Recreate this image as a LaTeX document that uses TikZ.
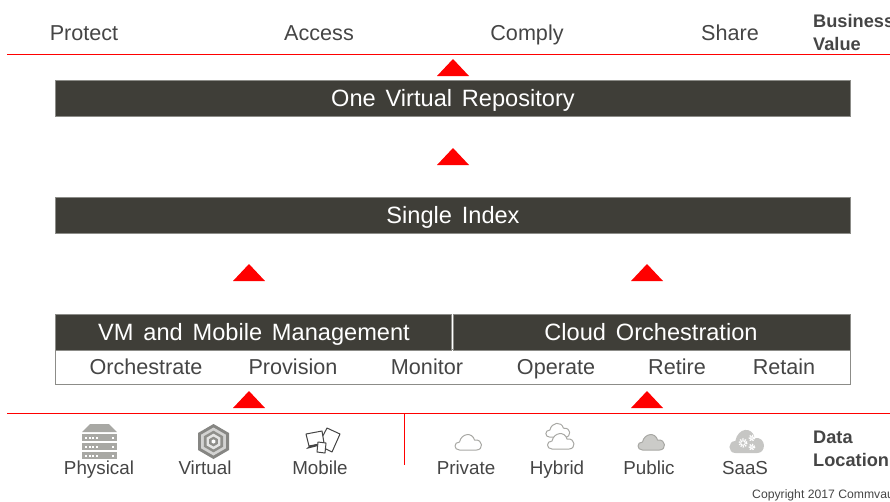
\documentclass[tikz,border=0pt]{standalone}
\usepackage{fontspec}
\setmainfont{Liberation Sans}
\newfontfamily\barfont[WordSpace=1.5]{Liberation Sans}
\usetikzlibrary{positioning}
\definecolor{pDark}{HTML}{3F3E38}
\definecolor{pText}{HTML}{454545}
\definecolor{pIcon}{HTML}{A8A8A4}
\definecolor{pEdge}{HTML}{8C8C88}
\tikzset{
    bar/.style={draw=pEdge, fill=pDark, minimum height=36pt, inner sep=0pt},
    bartext/.style={text=white, anchor=base, inner sep=0pt, font=\barfont\fontsize{23.6}{25}\selectfont},
    lbl/.style={text=pText, anchor=base, inner sep=0pt, font=\fontsize{21.6}{24}\selectfont},
    head/.style={lbl, font=\fontsize{21.6}{24}\selectfont},
    tag/.style={lbl, anchor=base west, font=\bfseries\fontsize{18.2}{20}\selectfont},
    icn/.style={lbl, font=\fontsize{18.8}{21}\selectfont},
    rule/.style={red, line width=1pt},
    up/.style={fill=red},
    cloudicon/.pic={
        \path[pic actions, line width=1pt, line join=round] (-9,8) .. controls (-15,8) and (-15,0) .. (-9,0)
            .. controls (-7,-9) and (4,-10) .. (6,-2) .. controls (15,-3) and (15,8) .. (8,8) -- cycle;
    }
}
\begin{document}
\begin{tikzpicture}[x=1pt,y=-1pt]
\useasboundingbox[clip] (0,0) rectangle (890,501);
% top row
\node[head] (protect) at ( 84,40.5) {Protect};
\node[head] (access)  at (319,40.5) {Access};
\node[head] (comply)  at (527,40.5) {Comply};
\node[head] (share)   at (730,40.5) {Share};
\node[tag] (business) at (813,27) {Business};
\node[tag] (value)    at (813,50) {Value};
\coordinate (topL) at (7,54);
\coordinate (topR) at (890,54);
\draw[rule] (topL)--(topR);
% bars
\node[bar,minimum width=795.5pt] (repo)  at (452.7,98.2) {};
\node[bar,minimum width=795.5pt] (index) at (452.7,214.7) {};
\node[draw=pEdge,line width=1pt,fill=white,minimum width=795pt,minimum height=35pt,inner sep=0pt] (tasks) at (453,367.3) {};
\node[bar,minimum width=396pt] (vm)    at (252.9,331.8) {};
\node[bar,minimum width=397pt] (cloud) at (652,331.8) {};
\node[bartext] (repotext)  at (453,106) {One Virtual Repository};
\node[bartext] (indextext) at (453,223) {Single Index};
\node[bartext] (vmtext)    at (254,340) {VM and Mobile Management};
\node[bartext] (cloudtext) at (651,340) {Cloud Orchestration};
\node[lbl] (orch) at (146,374.5) {Orchestrate};
\node[lbl] (prov) at (293,374.5) {Provision};
\node[lbl] (moni) at (427,374.5) {Monitor};
\node[lbl] (oper) at (556,374.5) {Operate};
\node[lbl] (reti) at (677,374.5) {Retire};
\node[lbl] (reta) at (784,374.5) {Retain};
% red triangles
\foreach \x/\y in {453/76, 453/165, 249/281, 647/281, 249/408, 647/408}
    \fill[up] (\x-16,\y) -- (\x,\y-17) -- (\x+16,\y) -- cycle;
% bottom rule
\coordinate (botL) at (7,413);
\coordinate (botR) at (890,413);
\coordinate (botM) at (404,413);
\coordinate (botD) at (404,465);
\draw[rule] (botL)--(botR);
\draw[rule] (botM)--(botD);
% physical
\fill[pIcon] (82,432) -- (90,424) -- (109,424) -- (117,432) -- cycle;
\foreach \y in {434,443,452} {
    \fill[pIcon] (82,\y) rectangle (117,\y+7);
    \foreach \x in {85,88.5,92,95.5}
        \fill[white] (\x,\y+3) rectangle (\x+2,\y+4.5);
    \fill[white] (112,\y+3) rectangle (114,\y+4.5);
}
% virtual
\fill[pIcon!80!black] (213.5,424) -- (229,433) -- (229,450) -- (213.5,459) -- (198,450) -- (198,433) -- cycle;
\foreach \r/\c in {0.8/pIcon!50!white, 0.62/pIcon!85!black, 0.45/pIcon!30!white, 0.28/pIcon!85!black, 0.12/white}
    \fill[\c,shift={(213.5,441.5)},scale=\r] (0,-17.5) -- (15.5,-8.5) -- (15.5,8.5) -- (0,17.5) -- (-15.5,8.5) -- (-15.5,-8.5) -- cycle;
% mobile
\draw[pText,line width=1pt,fill=white,line join=round] (327,428) -- (340,434) -- (332,452) -- (318,445) -- cycle;
\draw[pText,line width=1pt,fill=white,line join=round] (306,434) -- (322,431) -- (324,443) -- (309,446) -- cycle;
\fill[pText] (306,449) -- (309,446) -- (318,444) -- (318,446) -- cycle;
\draw[pText,line width=1pt,fill=white,line join=round] (318,442) -- (326,443) -- (325,453) -- (317,452) -- cycle;
% clouds
\pic[draw=pIcon] at (468.5,442) {cloudicon};
\pic[draw=pIcon,scale=.9] at (558,430) {cloudicon};
\pic[draw=pIcon,fill=white] at (561,441) {cloudicon};
\pic[draw=pIcon,fill=pIcon!60!white] at (651.5,442) {cloudicon};
\pic[draw=none,fill=pIcon!65!white,xscale=1.3,yscale=1.5] at (747,441) {cloudicon};
\foreach \x/\y/\r in {743/443/3.8, 752/438/2.6, 752/447/2.6} {
    \draw[white,line width=1.6pt,dash pattern=on 1.2pt off 1.2pt] (\x,\y) circle[radius=\r];
    \draw[white,line width=1pt] (\x,\y) circle[radius=\r*.6];
}
% bottom labels
\node[icn] (physical) at ( 99,474) {Physical};
\node[icn] (virtual)  at (205,474) {Virtual};
\node[icn] (mobile)   at (320,474) {Mobile};
\node[icn] (private)  at (466,474) {Private};
\node[icn] (hybrid)   at (557,474) {Hybrid};
\node[icn] (public)   at (649,474) {Public};
\node[icn] (saas)     at (745,474) {SaaS};
\node[tag] (data) at (813,443) {Data};
\node[tag] (loc)  at (813,466) {Location};
\node[lbl,anchor=base west,font=\fontsize{12.2}{14}\selectfont] (copy) at (752,498.5) {Copyright 2017 Commvault};
\end{tikzpicture}
\end{document}
